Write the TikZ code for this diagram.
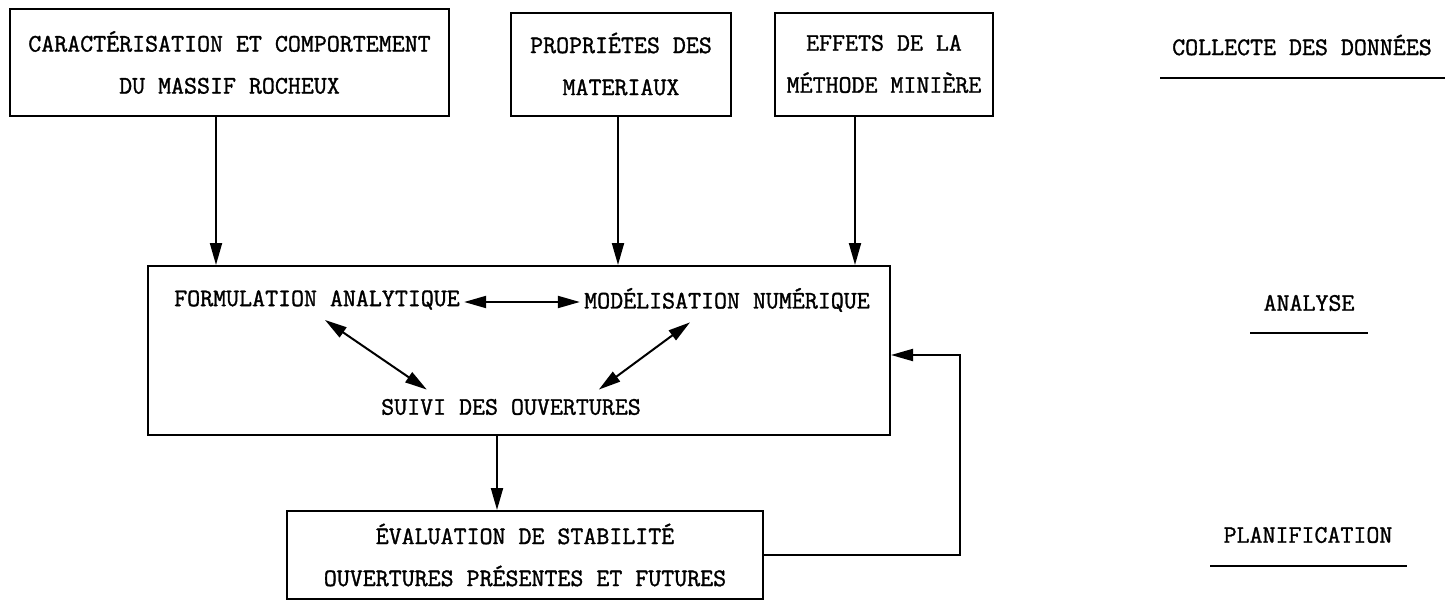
\documentclass[tikz,border=0pt]{standalone}
\usepackage{fontspec}
\newfontfamily\tw[RawFeature={embolden=1.3}]{Latin Modern Mono}
\usetikzlibrary{arrows.meta,positioning}
\begin{document}
\begin{tikzpicture}[x=0.5pt,y=-0.5pt,
  txt/.style={font=\tw\fontsize{12.6}{21}\selectfont, inner sep=2pt},
  box/.style={txt, draw, line width=1pt, align=center},
  tip/.tip={Triangle[length=11pt,width=6pt]},
  arr/.style={line width=1pt, -tip},
  darr/.style={line width=1pt, tip-tip},
  rule/.style={line width=1pt}]
\useasboundingbox (0,0) rectangle (1447,605);
% top boxes
\node[box, minimum width=219.5pt, minimum height=53.5pt] (b1) at (229.5,62.5)
  {CARACTÉRISATION ET COMPORTEMENT\\DU MASSIF ROCHEUX};
\node[box, minimum width=110pt, minimum height=51.5pt] (b2) at (621,64)
  {PROPRIÉTES DES\\MATERIAUX};
\node[box, minimum width=109pt, minimum height=51.5pt] (b3) at (884,64)
  {EFFETS DE LA\\MÉTHODE MINIÈRE};
% main box
\node[draw, line width=1pt, minimum width=371pt, minimum height=84.5pt] (main) at (519,350.5) {};
\node[txt] (fa) at (317,300) {FORMULATION ANALYTIQUE};
\node[txt] (mn) at (727,300) {MODÉLISATION NUMÉRIQUE};
\node[txt] (sdo) at (511,407) {SUIVI DES OUVERTURES};
% bottom box
\node[box, minimum width=238pt, minimum height=44pt] (bot) at (525,555)
  {ÉVALUATION DE STABILITÉ\\OUVERTURES PRÉSENTES ET FUTURES};
% right labels
\node[txt] (l1) at (1302,45) {COLLECTE DES DONNÉES};
\node[txt] (l2) at (1309,303) {ANALYSE};
\node[txt] (l3) at (1308,535) {PLANIFICATION};
\draw[rule] (1160,78) -- (1445,78);
\draw[rule] (1250,333) -- (1368,333);
\draw[rule] (1210,566) -- (1407,566);
% connectors
\coordinate (x1) at (216,0);
\coordinate (x2) at (618,0);
\coordinate (x3) at (855,0);
\coordinate (x4) at (497,0);
\coordinate (fb) at (960,355);
\draw[arr] (b1.south -| x1) -- (main.north -| x1);
\draw[arr] (b2.south -| x2) -- (main.north -| x2);
\draw[arr] (b3.south -| x3) -- (main.north -| x3);
\draw[arr] (main.south -| x4) -- (bot.north -| x4);
\draw[arr] (bot.east) -| (fb) -- (main.east |- fb);
\draw[darr] ([yshift=-1pt]fa.east) -- ([yshift=-1pt]mn.west);
\draw[darr] ([shift={(8,6)}]fa.south) -- ([shift={(50,-5)}]sdo.north west);
\draw[darr] ([shift={(-37,6)}]mn.south) -- ([shift={(222,-5)}]sdo.north west);
\end{tikzpicture}
\end{document}
